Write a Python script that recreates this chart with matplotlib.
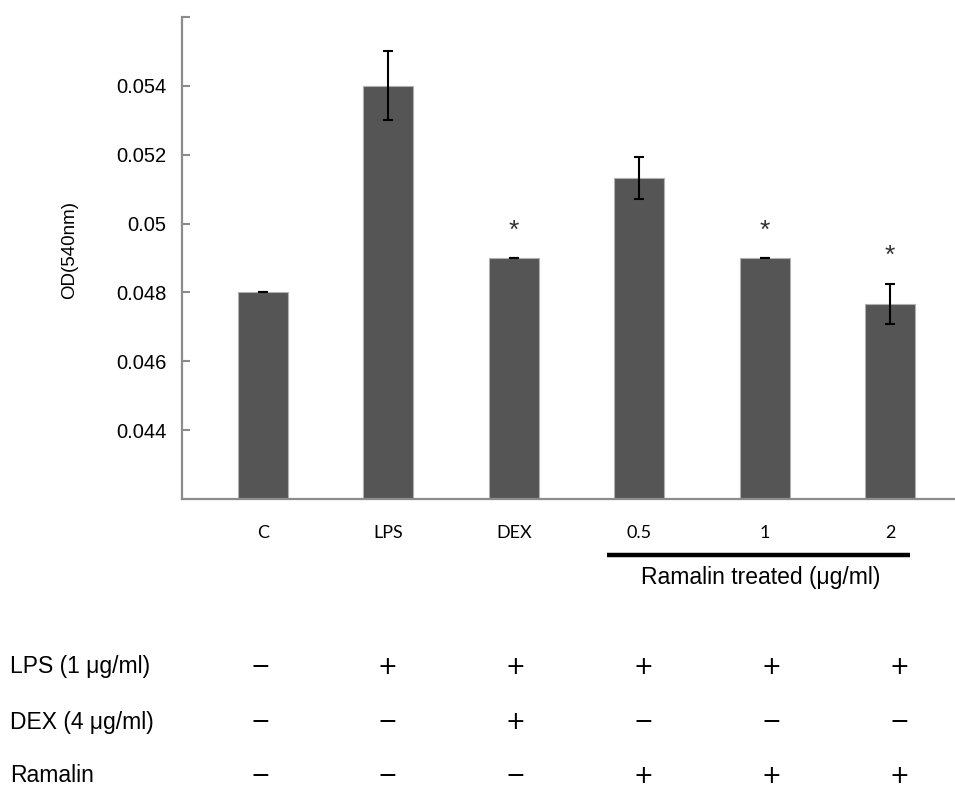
import numpy as np
import matplotlib
matplotlib.use('Agg')
import matplotlib.pyplot as plt
import matplotlib.transforms as mtransforms

# data
groups = ['C', 'LPS', 'DEX', '0.5', '1', '2']
od = [0.048, 0.054, 0.049, 0.05132, 0.049, 0.04767]
err = [0.0, 0.001, 0.0, 0.0006, 0.0, 0.00058]
signif = [False, False, True, False, True, True]

row_names = ['LPS (1 \u03bcg/ml)', 'DEX (4 \u03bcg/ml)', 'Ramalin']
lps_on = [0, 1, 1, 1, 1, 1]
dex_on = [0, 0, 1, 0, 0, 0]
ram_on = [0, 0, 0, 1, 1, 1]

plt.rcParams['font.family'] = ['Liberation Sans', 'DejaVu Sans']

W, H = 955, 791
fig = plt.figure(figsize=(W/100, H/100), dpi=100)
ax = fig.add_axes([182/W, 1-499/H, 1-182/W, (499-17)/H])

x = np.arange(len(groups))
ax.bar(x, od, width=0.4, color='#555555', edgecolor='#b0b0b0', linewidth=0.8, zorder=2)
ax.errorbar(x, od, yerr=err, fmt='none', ecolor='black', elinewidth=1.5,
            capsize=3.6, capthick=1.5, zorder=3)

for xi, v, e, s in zip(x, od, err, signif):
    if s:
        ax.text(xi, v+e+0.0008, '*', ha='center', va='center', fontsize=19,
                color='#333333')

ax.set_xlim(-0.646, 5.518)
ax.set_ylim(0.042, 0.056)
yt = [0.044, 0.046, 0.048, 0.05, 0.052, 0.054, 0.056]
ax.set_yticks(yt)
ax.set_yticklabels(['0.044', '0.046', '0.048', '0.05', '0.052', '0.054', ''], fontsize=14.5)
ax.tick_params(axis='y', direction='in', length=6, width=1.5, color='#8c8c8c', pad=11)
ax.set_xticks(x)
ax.set_xticklabels(groups, fontsize=13, family=['Lato', 'DejaVu Sans'])
ax.tick_params(axis='x', length=0, pad=19)

for side in ['top', 'right']:
    ax.spines[side].set_visible(False)
for side in ['left', 'bottom']:
    ax.spines[side].set_color('#8c8c8c')
    ax.spines[side].set_linewidth(1.6)

fig.text(70/W, 1-250/H, 'OD(540nm)', rotation=90, ha='center', va='center', fontsize=13.5)

# bracket under the ramalin doses
tr = mtransforms.blended_transform_factory(ax.transData, ax.transAxes)
ax.plot([3-0.257, 5+0.16], [-0.116, -0.116], color='black', lw=3.2,
        transform=tr, clip_on=False, solid_capstyle='butt')
ax.text(3.97, -0.162, 'Ramalin treated (\u03bcg/ml)', transform=tr,
        ha='center', va='center', fontsize=16.5)

# treatment table
rows = [lps_on, dex_on, ram_on]
row_y = [667, 722, 776]
for name, flags, yy in zip(row_names, rows, row_y):
    fig.text(10/W, 1-yy/H, name, ha='left', va='center', fontsize=16.5)
    for i, f in enumerate(flags):
        xp = 260 + i*127.8
        fig.text(xp/W, 1-yy/H, '+' if f else '\u2212', ha='center', va='center',
                 fontsize=17, family='DejaVu Sans')

fig.savefig('out.png', dpi=100)
